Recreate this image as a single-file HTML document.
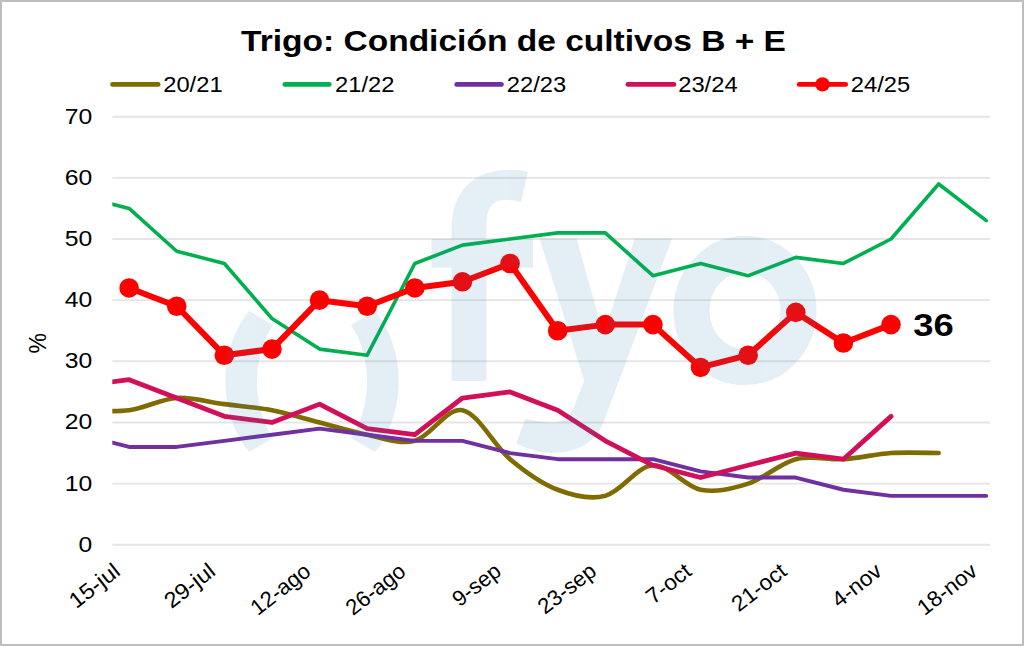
<!DOCTYPE html>
<html><head><meta charset="utf-8"><style>
html,body{margin:0;padding:0;background:#fff;}
body{width:1024px;height:646px;overflow:hidden;}
svg{display:block;}
text{font-family:"Liberation Sans",sans-serif;fill:#000;}
</style></head><body>
<svg width="1024" height="646" viewBox="0 0 1024 646">
<defs><clipPath id="pc"><rect x="112.3" y="0" width="877.7" height="646"/></clipPath></defs>
<rect x="1" y="1" width="1022" height="644" fill="#fff" stroke="#bebebe" stroke-width="2"/>
<text x="241" y="51.1" font-size="30.4" font-weight="bold" textLength="545" lengthAdjust="spacingAndGlyphs">Trigo: Condición de cultivos B + E</text>
<g font-size="21.2"><line x1="112.5" y1="84.4" x2="158.2" y2="84.4" stroke="#7F6C00" stroke-width="4.7" stroke-linecap="round"/><text x="163.2" y="91.7" textLength="59.4" lengthAdjust="spacingAndGlyphs">20/21</text><line x1="284.8" y1="84.4" x2="329.3" y2="84.4" stroke="#00B050" stroke-width="4.7" stroke-linecap="round"/><text x="335.1" y="91.7" textLength="59.4" lengthAdjust="spacingAndGlyphs">21/22</text><line x1="456.7" y1="84.4" x2="501.5" y2="84.4" stroke="#7030A0" stroke-width="4.7" stroke-linecap="round"/><text x="506.8" y="91.7" textLength="59.4" lengthAdjust="spacingAndGlyphs">22/23</text><line x1="627.9" y1="84.4" x2="674.0" y2="84.4" stroke="#D2105A" stroke-width="4.7" stroke-linecap="round"/><text x="678.2" y="91.7" textLength="59.4" lengthAdjust="spacingAndGlyphs">23/24</text><line x1="799.2" y1="84.4" x2="845.7" y2="84.4" stroke="#FF0000" stroke-width="4.7" stroke-linecap="round"/><circle cx="822.5" cy="84.4" r="7.2" fill="#FF0000"/><text x="850.8" y="91.7" textLength="59.4" lengthAdjust="spacingAndGlyphs">24/25</text></g>
<g stroke="#e5e5e5" stroke-width="1.9"><line x1="112.3" y1="544.80" x2="990.0" y2="544.80"/><line x1="112.3" y1="483.64" x2="990.0" y2="483.64"/><line x1="112.3" y1="422.48" x2="990.0" y2="422.48"/><line x1="112.3" y1="361.32" x2="990.0" y2="361.32"/><line x1="112.3" y1="300.16" x2="990.0" y2="300.16"/><line x1="112.3" y1="239.00" x2="990.0" y2="239.00"/><line x1="112.3" y1="177.84" x2="990.0" y2="177.84"/><line x1="112.3" y1="116.68" x2="990.0" y2="116.68"/></g>
<g font-size="22.4"><text x="92.3" y="551.80" text-anchor="end" textLength="13.7" lengthAdjust="spacingAndGlyphs">0</text><text x="92.3" y="490.64" text-anchor="end" textLength="27.5" lengthAdjust="spacingAndGlyphs">10</text><text x="92.3" y="429.48" text-anchor="end" textLength="27.5" lengthAdjust="spacingAndGlyphs">20</text><text x="92.3" y="368.32" text-anchor="end" textLength="27.5" lengthAdjust="spacingAndGlyphs">30</text><text x="92.3" y="307.16" text-anchor="end" textLength="27.5" lengthAdjust="spacingAndGlyphs">40</text><text x="92.3" y="246.00" text-anchor="end" textLength="27.5" lengthAdjust="spacingAndGlyphs">50</text><text x="92.3" y="184.84" text-anchor="end" textLength="27.5" lengthAdjust="spacingAndGlyphs">60</text><text x="92.3" y="123.68" text-anchor="end" textLength="27.5" lengthAdjust="spacingAndGlyphs">70</text></g>
<text transform="translate(46,343.2) rotate(-90)" text-anchor="middle" font-size="23">%</text>
<g font-size="22"><text transform="translate(121.60,573.80) rotate(-38)" text-anchor="end" textLength="57.6" lengthAdjust="spacingAndGlyphs">15-jul</text><text transform="translate(216.84,573.80) rotate(-38)" text-anchor="end" textLength="57.6" lengthAdjust="spacingAndGlyphs">29-jul</text><text transform="translate(312.08,573.80) rotate(-38)" text-anchor="end" textLength="68.9" lengthAdjust="spacingAndGlyphs">12-ago</text><text transform="translate(407.32,573.80) rotate(-38)" text-anchor="end" textLength="68.9" lengthAdjust="spacingAndGlyphs">26-ago</text><text transform="translate(502.56,573.80) rotate(-38)" text-anchor="end" textLength="54.7" lengthAdjust="spacingAndGlyphs">9-sep</text><text transform="translate(597.80,573.80) rotate(-38)" text-anchor="end" textLength="67.1" lengthAdjust="spacingAndGlyphs">23-sep</text><text transform="translate(693.04,573.80) rotate(-38)" text-anchor="end" textLength="50.5" lengthAdjust="spacingAndGlyphs">7-oct</text><text transform="translate(788.28,573.80) rotate(-38)" text-anchor="end" textLength="62.9" lengthAdjust="spacingAndGlyphs">21-oct</text><text transform="translate(883.52,573.80) rotate(-38)" text-anchor="end" textLength="56.5" lengthAdjust="spacingAndGlyphs">4-nov</text><text transform="translate(978.76,573.80) rotate(-38)" text-anchor="end" textLength="68.9" lengthAdjust="spacingAndGlyphs">18-nov</text></g>
<g clip-path="url(#pc)" fill="none" stroke-linejoin="round" stroke-linecap="round">
<path d="M81.48,410.25 C89.42,410.25 113.23,412.29 129.10,410.25 C144.97,408.21 160.85,399.04 176.72,398.02 C192.59,397.00 208.47,402.09 224.34,404.13 C240.21,406.17 256.09,407.19 271.96,410.25 C287.83,413.31 303.71,418.40 319.58,422.48 C335.45,426.56 351.33,431.65 367.20,434.71 C383.07,437.77 398.95,444.91 414.82,440.83 C430.69,436.75 446.57,407.19 462.44,410.25 C478.31,413.31 494.19,445.92 510.06,459.18 C525.93,472.43 541.81,483.64 557.68,489.76 C573.55,495.87 589.43,499.95 605.30,495.87 C621.17,491.79 637.05,466.31 652.92,465.29 C668.79,464.27 684.67,486.70 700.54,489.76 C716.41,492.81 732.29,488.74 748.16,483.64 C764.03,478.54 779.91,463.25 795.78,459.18 C811.65,455.10 827.53,460.20 843.40,459.18 C859.27,458.16 875.15,454.08 891.02,453.06 C906.89,452.04 930.70,453.06 938.64,453.06" stroke="#7F6C00" stroke-width="4.6"/>
<path d="M81.48,196.19 L129.10,208.42 L176.72,251.23 L224.34,263.46 L271.96,318.51 L319.58,349.09 L367.20,355.20 L414.82,263.46 L462.44,245.12 L510.06,239.00 L557.68,232.88 L605.30,232.88 L652.92,275.70 L700.54,263.46 L748.16,275.70 L795.78,257.35 L843.40,263.46 L891.02,239.00 L938.64,183.96 L986.26,220.65" stroke="#00B050" stroke-width="3.6"/>
<path d="M81.48,434.71 L129.10,446.94 L176.72,446.94 L224.34,440.83 L271.96,434.71 L319.58,428.60 L367.20,434.71 L414.82,440.83 L462.44,440.83 L510.06,453.06 L557.68,459.18 L605.30,459.18 L652.92,459.18 L700.54,471.41 L748.16,477.52 L795.78,477.52 L843.40,489.76 L891.02,495.87 L938.64,495.87 L986.26,495.87" stroke="#7030A0" stroke-width="3.9"/>
<path d="M81.48,385.78 L129.10,379.67 L176.72,398.02 L224.34,416.36 L271.96,422.48 L319.58,404.13 L367.20,428.60 L414.82,434.71 L462.44,398.02 L510.06,391.90 L557.68,410.25 L605.30,440.83 L652.92,465.29 L700.54,477.52 L748.16,465.29 L795.78,453.06 L843.40,459.18 L891.02,416.36" stroke="#D2105A" stroke-width="4.8"/>
<path d="M129.10,287.93 L176.72,306.28 L224.34,355.20 L271.96,349.09 L319.58,300.16 L367.20,306.28 L414.82,287.93 L462.44,281.81 L510.06,263.46 L557.68,330.74 L605.30,324.62 L652.92,324.62 L700.54,367.44 L748.16,355.20 L795.78,312.39 L843.40,342.97 L891.02,324.62" stroke="#FF0000" stroke-width="6"/>
</g>
<g fill="#FF0000"><circle cx="129.10" cy="287.93" r="9.8"/><circle cx="176.72" cy="306.28" r="9.8"/><circle cx="224.34" cy="355.20" r="9.8"/><circle cx="271.96" cy="349.09" r="9.8"/><circle cx="319.58" cy="300.16" r="9.8"/><circle cx="367.20" cy="306.28" r="9.8"/><circle cx="414.82" cy="287.93" r="9.8"/><circle cx="462.44" cy="281.81" r="9.8"/><circle cx="510.06" cy="263.46" r="9.8"/><circle cx="557.68" cy="330.74" r="9.8"/><circle cx="605.30" cy="324.62" r="9.8"/><circle cx="652.92" cy="324.62" r="9.8"/><circle cx="700.54" cy="367.44" r="9.8"/><circle cx="748.16" cy="355.20" r="9.8"/><circle cx="795.78" cy="312.39" r="9.8"/><circle cx="843.40" cy="342.97" r="9.8"/><circle cx="891.02" cy="324.62" r="9.8"/></g>
<text x="913.2" y="336.2" font-size="31.5" font-weight="bold" textLength="40.5" lengthAdjust="spacingAndGlyphs">36</text>

<g fill="rgb(33,132,173)" opacity="0.122">
  <!-- left ( ) arcs -->
  <path d="M249,311 A86.7,102.6 0 0 0 249,452 L273,438 A55,80 0 0 1 273,325 Z"/>
  <path d="M375,311 A86.7,102.6 0 0 1 375,452 L351,438 A55,80 0 0 0 351,325 Z"/>
  <!-- f -->
  <path d="M451.6,381 L451.6,267.7 L431.5,267.7 L431.5,239 L451.6,239 L451.6,228 C451.6,191 474,169.7 510,169.7 C517,169.7 523,170.5 528,172 L521,202 C516,200.5 511,200 506,200 C492,200 486.4,208 486.4,226 L486.4,239 L533,239 L533,267.7 L486.4,267.7 L486.4,381 Z"/>
  <!-- y -->
  <path d="M539.5,238.6 L576.6,238.6 L603.5,335 L634.7,238.6 L671.9,238.6 L604,421 C596,442 578,453 551,453 C540,453 528,449 516.2,443.5 L525.5,418.8 C535,421 545,422.5 553,422.5 C563,422.5 569,417 573,409 L584.3,381 Z"/>
  <!-- o -->
  <ellipse cx="745" cy="310.6" rx="53.5" ry="56.5" fill="none" stroke="rgb(33,132,173)" stroke-width="36"/>
</g>
</svg>
</body></html>
